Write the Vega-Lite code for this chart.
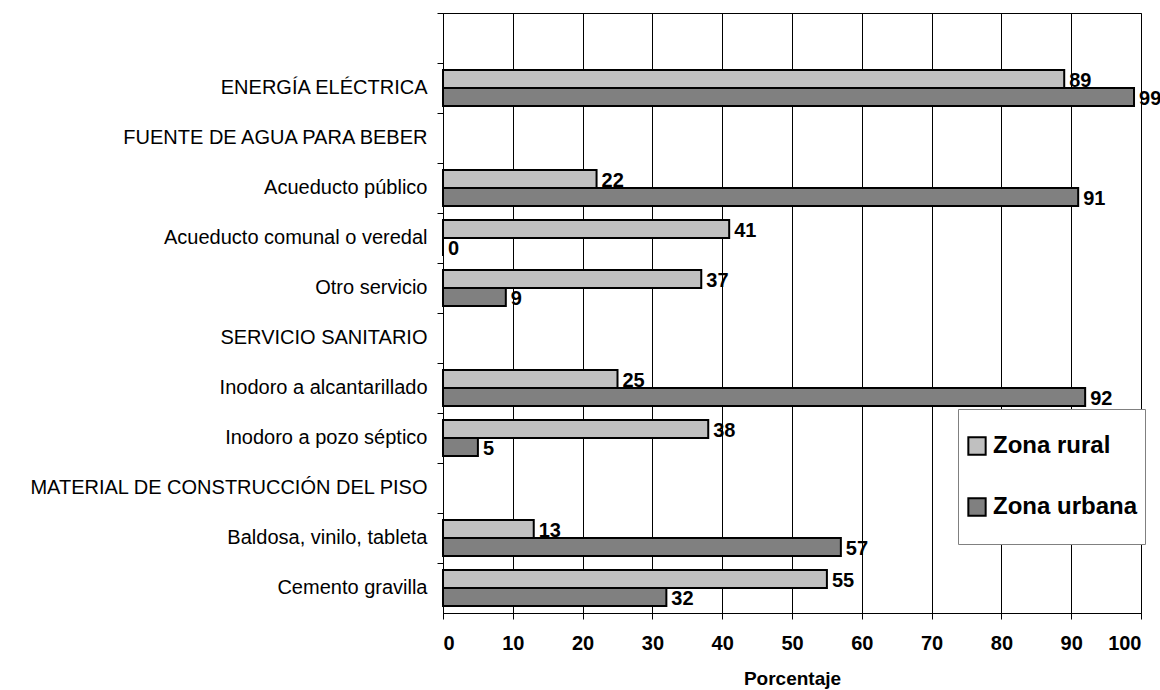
{
  "$schema": "https://vega.github.io/schema/vega-lite/v6.json",
  "autosize": {"type": "none"},
  "padding": {"left": 443, "top": 13, "right": 19, "bottom": 77},
  "width": 698,
  "height": 600,
  "background": "white",
  "config": {
    "font": "Liberation Sans",
    "view": {"stroke": "black", "strokeWidth": 1},
    "axis": {"domainColor": "black", "tickColor": "black", "labelColor": "black", "titleColor": "black"}
  },
  "data": {
    "values": [
      {"cat": "ENERGÍA ELÉCTRICA", "zona": "Zona rural", "v": 89},
      {"cat": "ENERGÍA ELÉCTRICA", "zona": "Zona urbana", "v": 99},
      {"cat": "Acueducto público", "zona": "Zona rural", "v": 22},
      {"cat": "Acueducto público", "zona": "Zona urbana", "v": 91},
      {"cat": "Acueducto comunal o veredal", "zona": "Zona rural", "v": 41},
      {"cat": "Acueducto comunal o veredal", "zona": "Zona urbana", "v": 0},
      {"cat": "Otro servicio", "zona": "Zona rural", "v": 37},
      {"cat": "Otro servicio", "zona": "Zona urbana", "v": 9},
      {"cat": "Inodoro a alcantarillado", "zona": "Zona rural", "v": 25},
      {"cat": "Inodoro a alcantarillado", "zona": "Zona urbana", "v": 92},
      {"cat": "Inodoro a pozo séptico", "zona": "Zona rural", "v": 38},
      {"cat": "Inodoro a pozo séptico", "zona": "Zona urbana", "v": 5},
      {"cat": "Baldosa, vinilo, tableta", "zona": "Zona rural", "v": 13},
      {"cat": "Baldosa, vinilo, tableta", "zona": "Zona urbana", "v": 57},
      {"cat": "Cemento gravilla", "zona": "Zona rural", "v": 55},
      {"cat": "Cemento gravilla", "zona": "Zona urbana", "v": 32}
    ]
  },
  "layer": [
    {
      "mark": {"type": "bar", "stroke": "black", "strokeWidth": 2},
      "encoding": {
        "y": {
          "field": "cat", "type": "nominal",
          "scale": {
            "domain": [" ", "ENERGÍA ELÉCTRICA", "FUENTE DE AGUA PARA BEBER", "Acueducto público", "Acueducto comunal o veredal", "Otro servicio", "SERVICIO SANITARIO", "Inodoro a alcantarillado", "Inodoro a pozo séptico", "MATERIAL DE CONSTRUCCIÓN DEL PISO", "Baldosa, vinilo, tableta", "Cemento gravilla"],
            "paddingInner": 0, "paddingOuter": 0
          },
          "axis": {"title": null, "ticks": false, "labelPadding": 16, "labelFontSize": 20, "labelLimit": 500, "domain": true}
        },
        "yOffset": {"field": "zona", "type": "nominal", "scale": {"paddingInner": 0, "paddingOuter": 0.39}},
        "x": {
          "field": "v", "type": "quantitative",
          "scale": {"domain": [0, 100], "nice": false},
          "axis": {"title": "Porcentaje", "values": [0,10,20,30,40,50,60,70,80,90,100], "grid": true, "gridColor": "black", "gridOpacity": 1, "tickSize": 6, "labelPadding": 14, "labelFontSize": 20, "labelFontWeight": "bold", "titleFontSize": 19, "titleFontWeight": "bold", "titlePadding": 16}
        },
        "fill": {
          "field": "zona", "type": "nominal",
          "scale": {"domain": ["Zona rural", "Zona urbana"], "range": ["#C0C0C0", "#808080"]},
          "legend": {
            "title": null, "orient": "none", "legendX": 515, "legendY": 396,
            "fillColor": "white", "strokeColor": "#808080", "padding": 7,
            "symbolType": "square", "symbolSize": 300, "symbolStrokeColor": "black", "symbolStrokeWidth": 2,
            "labelFontSize": 24, "labelFontWeight": "bold", "labelColor": "black", "labelOffset": 4, "labelLimit": 300,
            "clipHeight": 60, "rowPadding": 1
          }
        }
      }
    },
    {
      "mark": {"type": "text", "align": "left", "baseline": "middle", "dx": 5, "dy": 2, "fontSize": 20, "fontWeight": "bold", "color": "black"},
      "encoding": {
        "y": {"field": "cat", "type": "nominal", "axis": {"orient": "left", "title": null, "labels": false, "ticks": true, "tickSize": 6, "bandPosition": 0, "domain": false, "grid": false}},
        "yOffset": {"field": "zona", "type": "nominal"},
        "x": {"field": "v", "type": "quantitative"},
        "text": {"field": "v", "type": "quantitative"}
      }
    }
  ],
  "resolve": {"axis": {"y": "independent"}}
}
